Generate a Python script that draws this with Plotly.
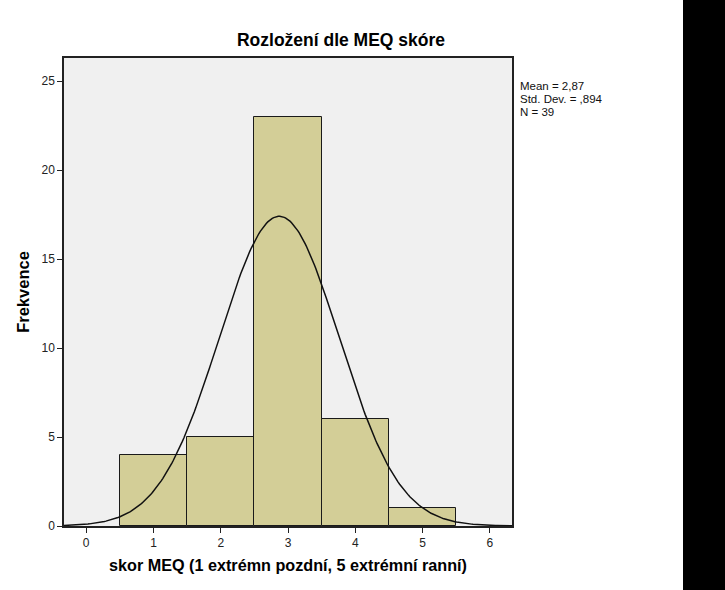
import numpy as np
import plotly.graph_objects as go

# Histogram data (bin centres and counts)
scores = [1, 2, 3, 4, 5]
counts = [4, 5, 23, 6, 1]

# Summary statistics shown in the chart
mean = 2.87
std_dev = 0.894
n_obs = 39
bin_width = 1
stat_lines = ["Mean = 2,87", "Std. Dev. = ,894", "N = 39"]

x_ticks = [0, 1, 2, 3, 4, 5, 6]
y_ticks = [0, 5, 10, 15, 20, 25]

# Fitted normal curve scaled to the histogram
xs = np.linspace(-0.33, 6.33, 300)
ys = n_obs * bin_width / (std_dev * np.sqrt(2 * np.pi)) * np.exp(-0.5 * ((xs - mean) / std_dev) ** 2)

fig = go.Figure()
fig.add_trace(go.Bar(
    x=scores, y=counts, width=bin_width,
    marker=dict(color="#D3CE97", line=dict(color="#1a1a1a", width=1)),
    hoverinfo="x+y"
))
fig.add_trace(go.Scatter(
    x=xs, y=ys, mode="lines",
    line=dict(color="#111111", width=1.5),
    hoverinfo="skip"
))

font = "Liberation Sans, Arial, sans-serif"

W, H = 725, 590
ML, MT = 64, 58

stats_ann = [dict(
    text=t, xref="paper", yref="paper", x=1.013, y=0.940 - i * 13 / 468,
    xanchor="left", yanchor="middle", showarrow=False, align="left",
    font=dict(size=11.5, color="#111111")
) for i, t in enumerate(stat_lines)]

fig.update_layout(
    width=W, height=H,
    margin=dict(l=ML, r=213, t=MT, b=H - MT - 468),
    paper_bgcolor="white",
    plot_bgcolor="#F0F0F0",
    showlegend=False,
    font=dict(family=font, color="#222222", size=12),
    title=dict(text="<b>Rozložení dle MEQ skóre</b>", x=341 / W, xanchor="center",
               y=1 - 40 / H, yanchor="middle", font=dict(size=17.5, color="black")),
    bargap=0,
    annotations=stats_ann,
    shapes=[dict(type="rect", xref="paper", yref="paper",
                 x0=(683 - ML) / 448, x1=1.6, y0=-0.3, y1=1.3,
                 fillcolor="black", line=dict(width=0), layer="above")]
)

fig.update_xaxes(
    range=[-0.33, 6.33], tickvals=x_ticks, ticks="outside", ticklen=5, tickwidth=1,
    tickcolor="#222222", showline=True, linecolor="#222222", linewidth=1.5, mirror=True,
    showgrid=False, zeroline=False, automargin=False,
    title=dict(text="<b>skor MEQ (1 extrémn pozdní, 5 extrémní ranní)</b>",
               font=dict(size=16.2, color="black"), standoff=11)
)
fig.update_yaxes(
    range=[0, 26.3], tickvals=y_ticks, ticks="outside", ticklen=5, tickwidth=1,
    tickcolor="#222222", showline=True, linecolor="#222222", linewidth=1.5, mirror=True,
    showgrid=False, zeroline=False, automargin=False,
    title=dict(text="<b>Frekvence</b>", font=dict(size=16.5, color="black"), standoff=8)
)

# drop the default 8px page margin so the figure fills the window
fig.write_html("out.html", config={"displayModeBar": False},
               post_script="document.body.style.margin='0px';")
